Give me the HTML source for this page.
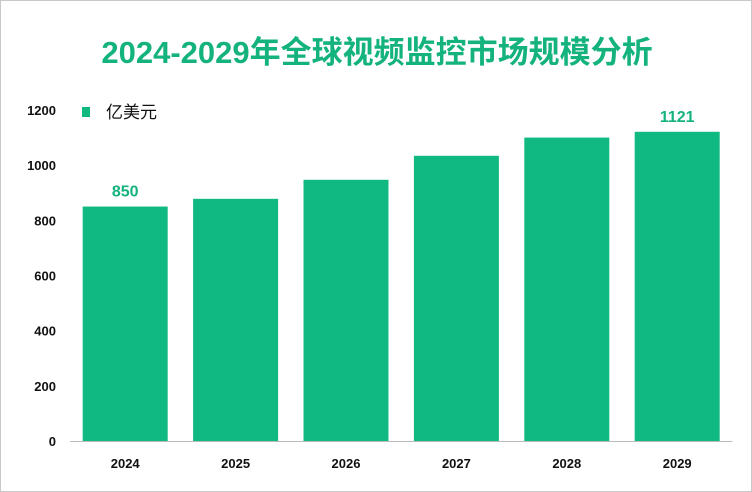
<!DOCTYPE html>
<html><head><meta charset="utf-8"><style>
body{margin:0;background:#fff;}
#wrap{position:relative;width:750px;height:490px;border:1px solid #c8c8c8;overflow:hidden;font-family:"Liberation Sans","Noto Sans CJK SC",sans-serif;}
</style></head><body>
<div id="wrap">
<svg id="chart" width="750" height="490"></svg>
</div>
<script>
const categories=["2024","2025","2026","2027","2028","2029"];
const values=[850,878,947,1034,1100,1121];
const labelShown=[true,false,false,false,false,true];
const yTicks=[0,200,400,600,800,1000,1200];
const NS="http://www.w3.org/2000/svg";
const svg=document.getElementById("chart");
function mk(t,a,txt){const e=document.createElementNS(NS,t);for(const k in a)e.setAttribute(k,a[k]);if(txt!==undefined)e.textContent=txt;svg.appendChild(e);return e;}
const y0=440,yTop=109,vmax=1200;
const y=v=>y0-(v/vmax)*(y0-yTop);
const left=69,slot=110.4,bw=85;
const x=i=>left+i*slot+(slot-bw)/2;
let t=mk("text",{x:376,y:62,"text-anchor":"middle","font-size":31,"font-weight":"bold",fill:"#14b37d"},"2024-2029年全球视频监控市场规模分析");


let lg=mk("rect",{x:81,y:106,width:8,height:10,fill:"#10b981"});


let lt=mk("text",{x:105,y:117,"font-size":17,fill:"#111"},"亿美元");


yTicks.forEach(v=>{
 const e=mk("text",{x:55,y:y(v)+5,"text-anchor":"end","font-size":13,"font-weight":"bold",fill:"#111"},String(v));
 
 
});
const ax=mk("line",{x1:left,x2:left+slot*6,y1:y0+0.5,y2:y0+0.5,stroke:"#bbb","stroke-width":1});


categories.forEach((c,i)=>{
 const r=mk("rect",{x:x(i),y:y(values[i]),width:bw,height:y0-y(values[i]),fill:"#10b981"});
 
 
 const tl=mk("text",{x:x(i)+bw/2,y:467,"text-anchor":"middle","font-size":13,"font-weight":"bold",fill:"#111"},c);
 
 
 if(labelShown[i]){
  const vl=mk("text",{x:x(i)+bw/2,y:y(values[i])-10,"text-anchor":"middle","font-size":16,"font-weight":"bold",fill:"#14b37d"},String(values[i]));
  
  
 }
});
</script>
</body></html>
